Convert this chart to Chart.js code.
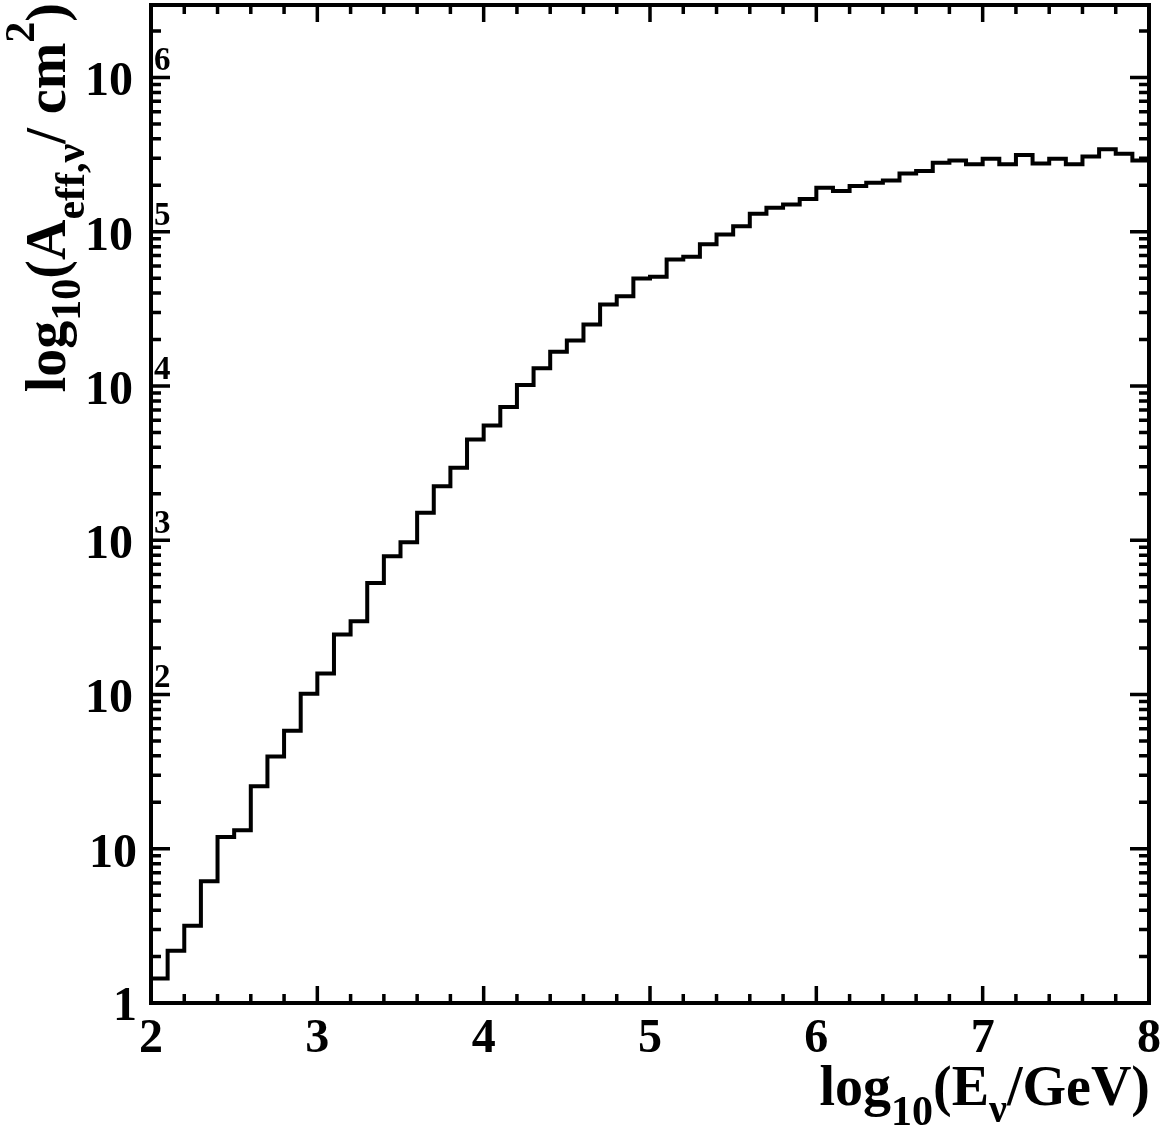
<!DOCTYPE html>
<html><head><meta charset="utf-8">
<script src="https://cdn.jsdelivr.net/npm/chart.js@4.4.1/dist/chart.umd.min.js"></script>
<style>html,body{margin:0;padding:0;background:#fff;overflow:hidden}#wrap{width:1170px;height:1127px;position:relative}</style>
</head><body><div id="wrap"><canvas id="c" width="1170" height="1127"></canvas></div>
<script>
// ---- data ----
const binLowEdges = [2.0,2.1,2.2,2.3,2.4,2.5,2.6,2.7,2.8,2.9,
  3.0,3.1,3.2,3.3,3.4,3.5,3.6,3.7,3.8,3.9,
  4.0,4.1,4.2,4.3,4.4,4.5,4.6,4.7,4.8,4.9,
  5.0,5.1,5.2,5.3,5.4,5.5,5.6,5.7,5.8,5.9,
  6.0,6.1,6.2,6.3,6.4,6.5,6.6,6.7,6.8,6.9,
  7.0,7.1,7.2,7.3,7.4,7.5,7.6,7.7,7.8,7.9];
const lastBinHighEdge = 8.0;
const aeffValues = [1.44,2.18,3.17,6.15,11.9,13.2,25.4,39.7,58.3,101,
  137,245,298,529,787,971,1505,2240,2950,4500,
  5540,7310,10150,13050,16700,19730,25060,33800,38200,49800,
  51100,66100,68800,82800,96000,108700,130900,143200,150400,163200,
  192800,183400,197600,207900,215200,238900,247200,280500,290000,273400,
  297400,273400,314000,277300,297400,273400,307800,342000,320600,290000];
const xTickValues = [2,3,4,5,6,7,8];
const xTickLabels = ['2','3','4','5','6','7','8'];
const yTickExponents = [0,1,2,3,4,5,6];
const xTitleParts = [{t:'log'},{t:'10',sub:true},{t:'(E'},{t:'\u03BD',sub2:true},{t:'/GeV)'}];
const yTitleParts = [{t:'log'},{t:'10',sub:true},{t:'(A'},{t:'eff,\u03BD',sub2:true},{t:'/ cm'},{t:'2',sup:true},{t:')'}];

// ---- chart ----
const FONT = "'Liberation Serif','Times New Roman',serif";
const points = binLowEdges.map((x,i)=>({x:x,y:aeffValues[i]}));
points.push({x:lastBinHighEdge,y:aeffValues[aeffValues.length-1]});

function richWidth(ctx, parts, sizes){
  let w=0;
  for(const p of parts){ctx.font='bold '+sizes(p)+'px '+FONT; w+=ctx.measureText(p.t).width;}
  return w;
}
function drawRich(ctx, parts, x, y, sizes, offs){
  let cx=x;
  for(const p of parts){ctx.font='bold '+sizes(p)+'px '+FONT; ctx.fillText(p.t,cx,y+offs(p)); cx+=ctx.measureText(p.t).width;}
}

const framePlugin = {
  id:'rootFrame',
  afterDraw(chart){
    const ctx=chart.ctx, a=chart.chartArea, xs=chart.scales.x, ys=chart.scales.y;
    ctx.save();
    ctx.strokeStyle='#000'; ctx.fillStyle='#000';
    ctx.lineWidth=4; ctx.lineJoin='miter';
    ctx.strokeRect(a.left,a.top,a.right-a.left,a.bottom-a.top);
    ctx.lineWidth=3.5;
    // x ticks (bottom & top)
    ctx.beginPath();
    for(let k=0;k<=30;k++){
      const v=xs.min+k*0.2; const px=xs.getPixelForValue(v);
      const major=(k%5===0); const L=major?17:9;
      ctx.moveTo(px,a.bottom); ctx.lineTo(px,a.bottom-L);
      ctx.moveTo(px,a.top); ctx.lineTo(px,a.top+L);
    }
    // y ticks (left & right)
    for(let d=0; d<=6; d++){
      for(let m=1;m<=9;m++){
        const v=m*Math.pow(10,d); if(v>ys.max) break;
        const py=ys.getPixelForValue(v); const L=(m===1)?19:10;
        ctx.moveTo(a.left,py); ctx.lineTo(a.left+L,py);
        ctx.moveTo(a.right,py); ctx.lineTo(a.right-L,py);
      }
    }
    ctx.stroke();
    // x tick labels
    ctx.textAlign='center'; ctx.textBaseline='alphabetic';
    ctx.font='bold 48px '+FONT;
    xTickValues.forEach((v,i)=>{ ctx.fillText(xTickLabels[i], xs.getPixelForValue(v), a.bottom+49); });
    // y tick labels
    yTickExponents.forEach(e=>{
      const py=ys.getPixelForValue(Math.pow(10,e));
      ctx.textAlign='right'; ctx.font='bold 48px '+FONT;
      if(e===0){ ctx.fillText('1',a.left-14,py+17); }
      else if(e===1){ ctx.fillText('10',a.left-14,py+18); }
      else {
        ctx.fillText('10',a.left-18,py+18);
        ctx.textAlign='left'; ctx.font='bold 33px '+FONT;
        ctx.fillText(String(e),a.left+3,py-7);
      }
    });
    // x title
    ctx.textAlign='left';
    const xs2=p=>p.sub?42:(p.sub2?40:56);
    const xo=p=>p.sub?20:(p.sub2?17:0);
    const xw=richWidth(ctx,xTitleParts,xs2);
    drawRich(ctx,xTitleParts,a.right+1-xw,1105,xs2,xo);
    // y title (rotated)
    const ysz=p=>(p.sub||p.sup||p.sub2)?42:56;
    const yo=p=>p.sub?15:(p.sub2?19:(p.sup?-31:0));
    const yw=richWidth(ctx,yTitleParts,ysz);
    ctx.save();
    ctx.translate(65,3);
    ctx.rotate(-Math.PI/2);
    drawRich(ctx,yTitleParts,-yw,0,ysz,yo);
    ctx.restore();
    ctx.restore();
  }
};

new Chart(document.getElementById('c'),{
  type:'line',
  data:{datasets:[{data:points,stepped:'before',borderColor:'#000',borderWidth:4,
    pointRadius:0,pointHoverRadius:0,fill:false,tension:0,borderJoinStyle:'miter',borderCapStyle:'butt'}]},
  options:{
    responsive:false, animation:false, devicePixelRatio:1,
    layout:{padding:{left:151,right:21,top:5,bottom:124},autoPadding:false},
    plugins:{legend:{display:false},tooltip:{enabled:false}},
    events:[],
    scales:{
      x:{type:'linear',min:2,max:8,display:false},
      y:{type:'logarithmic',min:1,max:2.95e6,display:false}
    }
  },
  plugins:[framePlugin]
});
</script></body></html>
